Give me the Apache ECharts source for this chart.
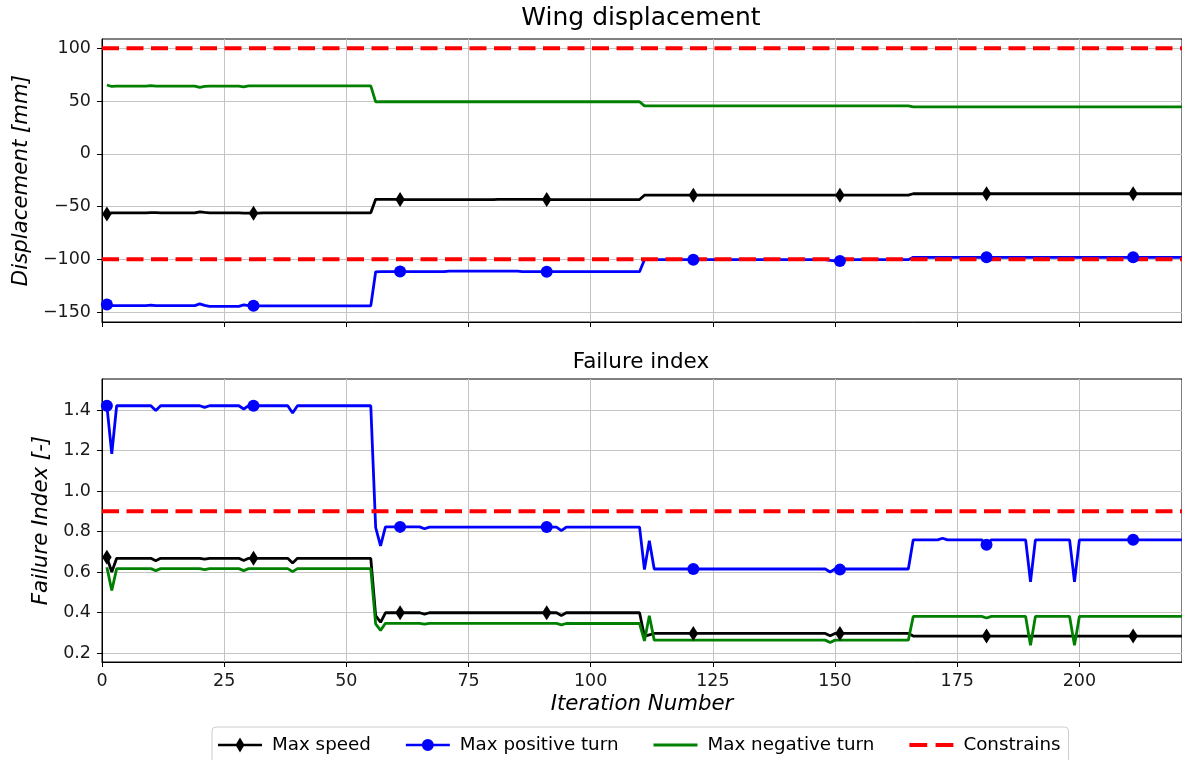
<!DOCTYPE html>
<html><head><meta charset="utf-8">
<script src="https://cdn.jsdelivr.net/npm/echarts@6/dist/echarts.min.js"></script>
<style>html,body{margin:0;padding:0;background:#fff}#c{width:1182px;height:760px}</style>
</head><body><div id="c"></div><script>
// ---------- data ----------
const seriesNames = ['Max speed', 'Max positive turn', 'Max negative turn', 'Constrains'];
const xTicks = [0, 25, 50, 75, 100, 125, 150, 175, 200];
const dispTicks = [-150, -100, -50, 0, 50, 100];
const fiTicks = [0.2, 0.4, 0.6, 0.8, 1.0, 1.2, 1.4];
const dispLimits = [100, -100];
const fiLimits = [0.9];
const constraintSpan = [0, 221];

// Wing displacement [mm], iterations 1..221
const dispSpeed = [
-57,-56,-56,-56,-56,-56,-56,-56,-56,-55.8,
-55.8,-56,-56,-56,-56,-56,-56,-56,-56,-55,
-55.6,-56,-56,-56,-56,-56,-56,-56,-56.2,-56.2,
-56.4,-56.2,-56,-56,-56,-56,-56,-56,-56,-56,
-56,-56,-56,-56,-56,-56,-56,-56,-56,-56,
-56,-56,-56,-56,-56,-43.2,-43.3,-43.3,-43.3,-43.3,
-43.4,-43.4,-43.4,-43.4,-43.4,-43.4,-43.4,-43.4,-43.4,-43.4,
-43.4,-43.4,-43.4,-43.4,-43.4,-43.4,-43.4,-43.4,-43.4,-43.4,
-43.2,-43.2,-43.2,-43.2,-43.2,-43.2,-43.2,-43.2,-43.2,-43.2,
-43.4,-43.4,-43.4,-43.4,-43.4,-43.4,-43.4,-43.4,-43.4,-43.4,
-43.4,-43.4,-43.4,-43.4,-43.4,-43.4,-43.4,-43.4,-43.4,-43.4,
-39.3,-39.3,-39.3,-39.3,-39.3,-39.3,-39.3,-39.3,-39.3,-39.3,
-39.3,-39.3,-39.3,-39.3,-39.3,-39.3,-39.3,-39.3,-39.3,-39.3,
-39.3,-39.3,-39.3,-39.3,-39.3,-39.3,-39.3,-39.3,-39.3,-39.3,
-39.3,-39.3,-39.3,-39.3,-39.3,-39.3,-39.3,-39.3,-39.3,-39.3,
-39.3,-39.3,-39.3,-39.3,-39.3,-39.3,-39.3,-39.3,-39.3,-39.3,
-39.3,-39.3,-39.3,-39.3,-39.3,-37.9,-37.9,-37.9,-37.9,-37.9,
-37.9,-37.9,-37.9,-37.9,-37.9,-37.9,-37.9,-37.9,-37.9,-37.9,
-37.9,-37.9,-37.9,-37.9,-37.9,-37.9,-37.9,-37.9,-37.9,-37.9,
-37.9,-37.9,-37.9,-37.9,-37.9,-37.9,-37.9,-37.9,-37.9,-37.9,
-37.9,-37.9,-37.9,-37.9,-37.9,-37.9,-37.9,-37.9,-37.9,-37.9,
-37.9,-37.9,-37.9,-37.9,-37.9,-37.9,-37.9,-37.9,-37.9,-37.9,
-37.9
];
const dispPos = [
-142.9,-144,-144,-144,-144,-144,-144,-144,-144,-143.4,
-144,-144,-144,-144,-144,-144,-144,-144,-144,-142.3,
-143.8,-144.6,-144.6,-144.6,-144.6,-144.6,-144.6,-144.6,-143.3,-144,
-144.2,-144.2,-144.2,-144.2,-144.2,-144.2,-144.2,-144.2,-144.2,-144.2,
-144.2,-144.2,-144.2,-144.2,-144.2,-144.2,-144.2,-144.2,-144.2,-144.2,
-144.2,-144.2,-144.2,-144.2,-144.2,-111.9,-111.7,-111.7,-111.7,-111.7,
-111.7,-111.7,-111.7,-111.7,-111.7,-111.7,-111.7,-111.7,-111.7,-111.7,
-111.2,-111.2,-111.2,-111.2,-111.2,-111.2,-111.2,-111.2,-111.2,-111.2,
-111.2,-111.2,-111.2,-111.2,-111.2,-111.7,-111.7,-111.7,-111.7,-111.7,
-111.8,-111.8,-111.8,-111.8,-111.8,-111.8,-111.8,-111.8,-111.8,-111.8,
-111.8,-111.8,-111.8,-111.8,-111.8,-111.8,-111.8,-111.8,-111.8,-111.8,
-100.4,-100.4,-100.4,-100.4,-100.4,-100.4,-100.4,-100.4,-100.4,-100.4,
-100.4,-100.4,-100.4,-100.4,-100.4,-100.4,-100.4,-100.4,-100.4,-100.4,
-100.4,-100.4,-100.4,-100.4,-100.4,-100.4,-100.4,-100.4,-100.4,-100.4,
-100.4,-100.4,-100.4,-100.4,-100.4,-100.4,-100.4,-100.4,-101,-101.6,
-101.6,-100.4,-100.4,-100.4,-100.4,-100.4,-100.4,-100.4,-100.4,-100.4,
-100.4,-100.4,-100.4,-100.4,-100.4,-98.2,-98.2,-98.2,-98.2,-98.2,
-98.2,-98.2,-98.2,-98.2,-98.2,-98.2,-98.2,-98.2,-98.2,-98.2,
-98.2,-98.2,-98.2,-98.2,-98.2,-98.2,-98.2,-98.2,-98.2,-98.2,
-98.2,-98.2,-98.2,-98.2,-98.2,-98.2,-98.2,-98.2,-98.2,-98.2,
-98.2,-98.2,-98.2,-98.2,-98.2,-98.2,-98.2,-98.2,-98.2,-98.2,
-98.2,-98.2,-98.2,-98.2,-98.2,-98.2,-98.2,-98.2,-98.2,-98.2,
-98.2
];
const dispNeg = [
65.2,63.8,64.2,64.2,64.2,64.2,64.2,64.2,64.2,64.5,
64.2,64.2,64.2,64.2,64.2,64.2,64.2,64.2,64.2,62.9,
63.8,64.2,64.2,64.2,64.2,64.2,64.2,64.2,63.4,64.3,
64.3,64.3,64.3,64.3,64.3,64.3,64.3,64.3,64.3,64.3,
64.3,64.3,64.3,64.3,64.3,64.3,64.3,64.3,64.3,64.3,
64.3,64.3,64.3,64.3,64.3,49.2,49.3,49.3,49.3,49.3,
49.3,49.3,49.3,49.3,49.3,49.3,49.3,49.3,49.3,49.3,
49.3,49.3,49.3,49.3,49.3,49.3,49.3,49.3,49.3,49.3,
49.3,49.3,49.3,49.3,49.3,49.3,49.3,49.3,49.3,49.3,
49.3,49.3,49.3,49.3,49.3,49.3,49.3,49.3,49.3,49.3,
49.3,49.3,49.3,49.3,49.3,49.3,49.3,49.3,49.3,49.3,
45.4,45.4,45.4,45.4,45.4,45.4,45.4,45.4,45.4,45.4,
45.4,45.4,45.4,45.4,45.4,45.4,45.4,45.4,45.4,45.4,
45.4,45.4,45.4,45.4,45.4,45.4,45.4,45.4,45.4,45.4,
45.4,45.4,45.4,45.4,45.4,45.4,45.4,45.4,45.4,45.4,
45.4,45.4,45.4,45.4,45.4,45.4,45.4,45.4,45.4,45.4,
45.4,45.4,45.4,45.4,45.4,44.4,44.4,44.4,44.4,44.4,
44.4,44.4,44.4,44.4,44.4,44.4,44.4,44.4,44.4,44.4,
44.4,44.4,44.4,44.4,44.4,44.4,44.4,44.4,44.4,44.4,
44.4,44.4,44.4,44.4,44.4,44.4,44.4,44.4,44.4,44.4,
44.4,44.4,44.4,44.4,44.4,44.4,44.4,44.4,44.4,44.4,
44.4,44.4,44.4,44.4,44.4,44.4,44.4,44.4,44.4,44.4,
44.4
];

// Failure index [-], iterations 1..221
const fiSpeed = [
0.673,0.600,0.668,0.668,0.668,0.668,0.668,0.668,0.668,0.668,
0.656,0.668,0.668,0.668,0.668,0.668,0.668,0.668,0.668,0.668,
0.664,0.668,0.668,0.668,0.668,0.668,0.668,0.668,0.657,0.668,
0.668,0.668,0.668,0.668,0.668,0.668,0.668,0.668,0.645,0.668,
0.668,0.668,0.668,0.668,0.668,0.668,0.668,0.668,0.668,0.668,
0.668,0.668,0.668,0.668,0.668,0.385,0.352,0.399,0.399,0.399,
0.399,0.399,0.399,0.399,0.399,0.392,0.399,0.399,0.399,0.399,
0.399,0.399,0.399,0.399,0.399,0.399,0.399,0.399,0.399,0.399,
0.399,0.399,0.399,0.399,0.399,0.399,0.399,0.399,0.399,0.399,
0.399,0.399,0.399,0.386,0.399,0.399,0.399,0.399,0.399,0.399,
0.399,0.399,0.399,0.399,0.399,0.399,0.399,0.399,0.399,0.399,
0.283,0.290,0.297,0.297,0.297,0.297,0.297,0.297,0.297,0.297,
0.297,0.297,0.297,0.297,0.297,0.297,0.297,0.297,0.297,0.297,
0.297,0.297,0.297,0.297,0.297,0.297,0.297,0.297,0.297,0.297,
0.297,0.297,0.297,0.297,0.297,0.297,0.297,0.297,0.285,0.297,
0.297,0.297,0.297,0.297,0.297,0.297,0.297,0.297,0.297,0.297,
0.297,0.297,0.297,0.297,0.297,0.284,0.284,0.284,0.284,0.284,
0.284,0.284,0.284,0.284,0.284,0.284,0.284,0.284,0.284,0.284,
0.284,0.284,0.284,0.284,0.284,0.284,0.284,0.284,0.284,0.284,
0.284,0.284,0.284,0.284,0.284,0.284,0.284,0.284,0.284,0.284,
0.284,0.284,0.284,0.284,0.284,0.284,0.284,0.284,0.284,0.284,
0.284,0.284,0.284,0.284,0.284,0.284,0.284,0.284,0.284,0.284,
0.284
];
const fiPos = [
1.421,1.183,1.421,1.421,1.421,1.421,1.421,1.421,1.421,1.421,
1.397,1.421,1.421,1.421,1.421,1.421,1.421,1.421,1.421,1.421,
1.413,1.421,1.421,1.421,1.421,1.421,1.421,1.421,1.405,1.421,
1.421,1.421,1.421,1.421,1.421,1.421,1.421,1.421,1.385,1.421,
1.421,1.421,1.421,1.421,1.421,1.421,1.421,1.421,1.421,1.421,
1.421,1.421,1.421,1.421,1.421,0.820,0.729,0.823,0.823,0.823,
0.823,0.823,0.823,0.823,0.823,0.814,0.822,0.822,0.822,0.822,
0.822,0.822,0.822,0.822,0.822,0.822,0.822,0.822,0.822,0.822,
0.822,0.822,0.822,0.822,0.822,0.822,0.822,0.822,0.822,0.822,
0.822,0.822,0.822,0.805,0.822,0.822,0.822,0.822,0.822,0.822,
0.822,0.822,0.822,0.822,0.822,0.822,0.822,0.822,0.822,0.822,
0.612,0.755,0.615,0.615,0.615,0.615,0.615,0.615,0.615,0.615,
0.615,0.615,0.615,0.615,0.615,0.615,0.615,0.615,0.615,0.615,
0.615,0.615,0.615,0.615,0.615,0.615,0.615,0.615,0.615,0.615,
0.615,0.615,0.615,0.615,0.615,0.615,0.615,0.615,0.600,0.615,
0.612,0.615,0.615,0.615,0.615,0.615,0.615,0.615,0.615,0.615,
0.615,0.615,0.615,0.615,0.615,0.759,0.759,0.759,0.759,0.759,
0.759,0.767,0.759,0.759,0.759,0.759,0.759,0.759,0.759,0.759,
0.735,0.759,0.759,0.759,0.759,0.759,0.759,0.759,0.759,0.552,
0.759,0.759,0.759,0.759,0.759,0.759,0.759,0.759,0.552,0.759,
0.759,0.759,0.759,0.759,0.759,0.759,0.759,0.759,0.759,0.759,
0.759,0.759,0.759,0.759,0.759,0.759,0.759,0.759,0.759,0.759,
0.759
];
const fiNeg = [
0.624,0.509,0.617,0.617,0.617,0.617,0.617,0.617,0.617,0.617,
0.607,0.617,0.617,0.617,0.617,0.617,0.617,0.617,0.617,0.617,
0.612,0.617,0.617,0.617,0.617,0.617,0.617,0.617,0.607,0.617,
0.617,0.617,0.617,0.617,0.617,0.617,0.617,0.617,0.602,0.617,
0.617,0.617,0.617,0.617,0.617,0.617,0.617,0.617,0.617,0.617,
0.617,0.617,0.617,0.617,0.617,0.344,0.312,0.347,0.347,0.347,
0.347,0.347,0.347,0.347,0.347,0.343,0.347,0.347,0.347,0.347,
0.347,0.347,0.347,0.347,0.347,0.347,0.347,0.347,0.347,0.347,
0.347,0.347,0.347,0.347,0.347,0.347,0.347,0.347,0.347,0.347,
0.347,0.347,0.347,0.339,0.346,0.346,0.346,0.346,0.346,0.346,
0.346,0.346,0.346,0.346,0.346,0.346,0.346,0.346,0.346,0.346,
0.260,0.384,0.264,0.264,0.264,0.264,0.264,0.264,0.264,0.264,
0.264,0.264,0.264,0.264,0.264,0.264,0.264,0.264,0.264,0.264,
0.264,0.264,0.264,0.264,0.264,0.264,0.264,0.264,0.264,0.264,
0.264,0.264,0.264,0.264,0.264,0.264,0.264,0.264,0.252,0.264,
0.264,0.264,0.264,0.264,0.264,0.264,0.264,0.264,0.264,0.264,
0.264,0.264,0.264,0.264,0.264,0.381,0.381,0.381,0.381,0.381,
0.381,0.381,0.381,0.381,0.381,0.381,0.381,0.381,0.381,0.381,
0.373,0.381,0.381,0.381,0.381,0.381,0.381,0.381,0.381,0.238,
0.381,0.381,0.381,0.381,0.381,0.381,0.381,0.381,0.238,0.381,
0.381,0.381,0.381,0.381,0.381,0.381,0.381,0.381,0.381,0.381,
0.381,0.381,0.381,0.381,0.381,0.381,0.381,0.381,0.381,0.381,
0.381
];

// ---------- chart ----------
const FONT = 'DejaVu Sans';
const iterations = dispSpeed.map((_, i) => i + 1);
const pairs = arr => arr.map((v, i) => [iterations[i], v]);
const MARK_EVERY = 30;
const COLORS = { speed: '#000000', pos: '#0000ff', neg: '#008000', lim: '#ff0000' };

function dataSeries(name, values, color, gi, symbol, size) {
  return {
    type: 'line', name: name, xAxisIndex: gi, yAxisIndex: gi,
    data: pairs(values), color: color,
    lineStyle: { color: color, width: 2.8 },
    itemStyle: { color: color },
    symbol: symbol || 'none',
    symbolSize: symbol ? function (v, p) { return p.dataIndex % MARK_EVERY === 0 ? size : 0; } : 0,
    showSymbol: !!symbol,
    emphasis: { disabled: true },
    animation: false
  };
}
function limitSeries(value, gi) {
  return {
    type: 'line', name: seriesNames[3], xAxisIndex: gi, yAxisIndex: gi,
    data: [[constraintSpan[0], value], [constraintSpan[1], value]],
    color: COLORS.lim,
    lineStyle: { color: COLORS.lim, width: 4, type: [17, 7.5] },
    itemStyle: { color: COLORS.lim },
    symbol: 'none', showSymbol: false,
    emphasis: { disabled: true },
    animation: false
  };
}

const tickText = { fontFamily: FONT, fontSize: 17.5, color: '#1a1a1a' };
const nameText = { fontFamily: FONT, fontSize: 21.3, fontStyle: 'italic', color: '#000' };
const splitStyle = { show: true, lineStyle: { color: '#c4c4c4', width: 1 } };

function xAxis(gi) {
  return {
    type: 'value', gridIndex: gi, min: 0, max: 221,
    axisLine: { show: true, onZero: false, lineStyle: { color: '#000', width: 1 } },
    axisTick: { show: true, length: 5, customValues: xTicks, lineStyle: { color: '#000' } },
    axisLabel: Object.assign({ show: gi === 1, customValues: xTicks, margin: 10 }, tickText),
    splitLine: splitStyle,
    name: gi === 1 ? 'Iteration Number' : '', nameLocation: 'middle', nameGap: 32,
    nameTextStyle: nameText
  };
}
function yAxis(gi, min, max, ticks, fmt, name, gap) {
  return {
    type: 'value', gridIndex: gi, min: min, max: max,
    axisLine: { show: true, onZero: false, lineStyle: { color: '#000', width: 1 } },
    axisTick: { show: true, length: 5, customValues: ticks, lineStyle: { color: '#000' } },
    axisLabel: Object.assign({ customValues: ticks, margin: 11, formatter: fmt }, tickText),
    splitLine: splitStyle,
    name: name, nameLocation: 'middle', nameGap: gap, nameTextStyle: nameText
  };
}

// legend glyphs: line with marker, plain line, dashed line
const legendIcons = {
  speed: 'path://M0 6.2H44V8.8H0Z M22 0L26.5 7.5L22 15L17.5 7.5Z',
  pos: 'path://M0 6.2H44V8.8H0Z M28 7.5A6 6 0 1 1 16 7.5A6 6 0 1 1 28 7.5Z',
  neg: 'path://M0 0H44V3H0Z',
  lim: 'path://M0 0H17V4H0Z M25 0H42V4H25Z'
};

const option = {
  backgroundColor: '#ffffff',
  animation: false,
  graphic: [
    { type: 'text', x: 641, y: 6, silent: true,
      style: { text: 'Wing displacement', font: '25px "DejaVu Sans"', fill: '#000',
               textAlign: 'center', textVerticalAlign: 'top', align: 'center', verticalAlign: 'top' } },
    { type: 'text', x: 641, y: 351, silent: true,
      style: { text: 'Failure index', font: '21.5px "DejaVu Sans"', fill: '#000',
               textAlign: 'center', textVerticalAlign: 'top', align: 'center', verticalAlign: 'top' } }
  ],
  grid: [
    { left: 102, top: 39, width: 1081, height: 283, show: true, borderColor: '#000', borderWidth: 1, containLabel: false },
    { left: 102, top: 379, width: 1081, height: 283, show: true, borderColor: '#000', borderWidth: 1, containLabel: false }
  ],
  xAxis: [xAxis(0), xAxis(1)],
  yAxis: [
    yAxis(0, -159.5, 108.8, dispTicks, v => String(v).replace('-', '\u2212'), 'Displacement [mm]', 67),
    yAxis(1, 0.156, 1.553, fiTicks, v => Number(v).toFixed(1), 'Failure Index [-]', 42)
  ],
  legend: {
    left: 212, top: 727,
    padding: [9, 8, 9, 6],
    itemWidth: 44, itemHeight: 15, itemGap: 35,
    borderColor: '#cccccc', borderWidth: 1, borderRadius: 4,
    backgroundColor: '#ffffff',
    textStyle: { fontFamily: FONT, fontSize: 18.3, color: '#000', padding: [0, 0, 0, 5] },
    selectedMode: false,
    data: [
      { name: seriesNames[0], icon: legendIcons.speed },
      { name: seriesNames[1], icon: legendIcons.pos },
      { name: seriesNames[2], icon: legendIcons.neg },
      { name: seriesNames[3], icon: legendIcons.lim }
    ]
  },
  series: [
    dataSeries(seriesNames[0], dispSpeed, COLORS.speed, 0, 'diamond', [9.5, 15]),
    dataSeries(seriesNames[1], dispPos, COLORS.pos, 0, 'circle', 12),
    dataSeries(seriesNames[2], dispNeg, COLORS.neg, 0, null, 0),
    limitSeries(dispLimits[0], 0),
    limitSeries(dispLimits[1], 0),
    dataSeries(seriesNames[0], fiSpeed, COLORS.speed, 1, 'diamond', [9.5, 15]),
    dataSeries(seriesNames[1], fiPos, COLORS.pos, 1, 'circle', 12),
    dataSeries(seriesNames[2], fiNeg, COLORS.neg, 1, null, 0),
    limitSeries(fiLimits[0], 1)
  ]
};

const chart = echarts.init(document.getElementById('c'), null, { renderer: 'canvas' });
chart.setOption(option);
</script></body></html>
